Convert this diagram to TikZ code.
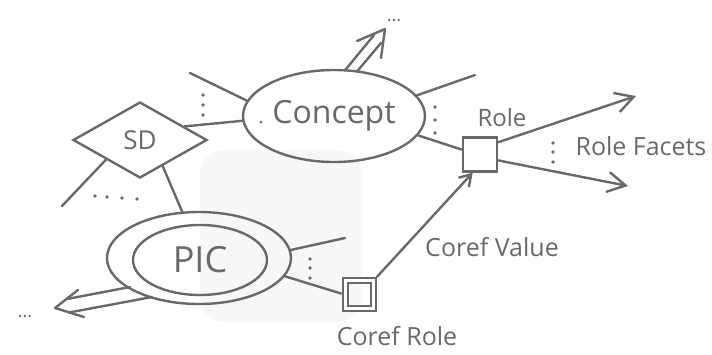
\documentclass[tikz,border=0pt]{standalone}
\usepackage{fontspec}
\setmainfont{Open Sans}
\usetikzlibrary{shapes.geometric,arrows.meta}
\definecolor{ink}{RGB}{105,105,105}
\begin{document}
\begin{tikzpicture}[x=1pt,y=-1pt,
  every node/.style={text=ink},
  conn/.style={draw=ink, line width=2.4pt, line cap=round},
  arr/.style={conn, -{Straight Barb[length=18pt,width=20pt]}},
  arrs/.style={conn, -{Straight Barb[length=11pt,width=14pt]}},
  shape2/.style={draw=ink, line width=2.4pt, inner sep=0pt},
  dotm/.style={fill=ink, circle, inner sep=0pt, minimum size=3.6pt},
  lbl/.style={inner sep=0pt, font=\fontsize{25}{28}\selectfont},
  ell/.style={inner sep=0pt, anchor=base, font=\fontsize{18}{20}\selectfont}
]
\useasboundingbox (0,0) rectangle (712,354);
\fill[black!3, rounded corners=25pt] (200,150) rectangle (362,322);

% nodes
\node[shape2, ellipse, minimum width=182pt, minimum height=92pt, font=\fontsize{32}{36}\selectfont] (concept) at (334,116) {Concept};
\node[dotm, minimum size=3pt] (cdot) at (261,122) {};
\node[shape2, diamond, minimum width=134pt, minimum height=76pt, font=\fontsize{26}{30}\selectfont] (sd) at (140,140) {SD};
\node[shape2, ellipse, minimum width=184pt, minimum height=92pt] (pico) at (199,258) {};
\node[shape2, ellipse, minimum width=134pt, minimum height=70pt, font=\fontsize{36}{40}\selectfont] (pici) at (200,260) {PIC};
\node[shape2, minimum size=34pt] (role) at (480,154.5) {};
\node[shape2, double, double distance=2.5pt, minimum size=28pt] (cr) at (359.5,294.5) {};

% labels
\node[lbl, font=\fontsize{24}{28}\selectfont] (rolelbl) at (502,117) {Role};
\node[lbl] (facets) at (641,146) {Role Facets};
\node[lbl] (cv) at (492,247) {Coref Value};
\node[lbl] (crl) at (397,336) {Coref Role};
\node[ell] (topdots) at (394,21) {...};
\node[ell] (leftdots) at (25,317) {...};

% free ends
\coordinate (cul) at (190,73);
\coordinate (cur) at (475,75);
\coordinate (sdl) at (62,206);
\coordinate (pr) at (345,238);
\coordinate (rf1) at (636,96);
\coordinate (rf2) at (628,186);

% connectors
\draw[conn] (concept.183) -- (sd.17);
\draw[conn] (concept.170) -- (cul);
\draw[conn] (concept.14) -- (cur);
\draw[conn] (concept.-13) -- (role.165);
\draw[conn] (sd.210) -- (sdl);
\draw[conn] (sd.-49) -- (pico.110);
\draw[conn] (pico.5) -- (pr);
\draw[conn, shorten >=3.5pt] (pico.-12) -- (cr.west);
\draw[arrs, shorten <=3.5pt] (cr.north east) -- (role.248);
\draw[arr] (role.34) -- (rf1);
\draw[arr] (role.-18) -- (rf2);

% double arrow out of Concept
\coordinate (ct) at (385,29);
\coordinate (cb1) at (357,41);
\coordinate (cb2) at (381,58);
\coordinate (cs1a) at (345,70.3);
\coordinate (cs1b) at (374,35);
\coordinate (cs2a) at (357,71.5);
\coordinate (cs2b) at (381,43);
\draw[conn, line join=round] (cb1) -- (ct) -- (cb2);
\draw[conn] (cs1a) -- (cs1b);
\draw[conn] (cs2a) -- (cs2b);

% double arrow out of PIC
\coordinate (pt) at (55,308);
\coordinate (pb1) at (78,290);
\coordinate (pb2) at (84,317);
\coordinate (ps1a) at (130,287);
\coordinate (ps1b) at (67,299);
\coordinate (ps2a) at (152,297);
\coordinate (ps2b) at (69,312.5);
\draw[conn, line join=round] (pb1) -- (pt) -- (pb2);
\draw[conn] (ps1a) -- (ps1b);
\draw[conn] (ps2a) -- (ps2b);

% vertical ellipsis marks
\foreach \y [count=\i] in {95,105,115} \node[dotm] (dl\i) at (203,\y) {};
\foreach \y [count=\i] in {107,120,133} \node[dotm] (dr\i) at (435,\y) {};
\foreach \y [count=\i] in {259,268,278} \node[dotm] (dp\i) at (310,\y) {};
\foreach \y [count=\i] in {143,152,162} \node[dotm] (df\i) at (553,\y) {};
% horizontal dots under SD
\node[dotm] (hs1) at (95,196) {};
\node[dotm] (hs2) at (107,197) {};
\node[dotm] (hs3) at (122,198) {};
\node[dotm] (hs4) at (137,199) {};
\end{tikzpicture}
\end{document}
